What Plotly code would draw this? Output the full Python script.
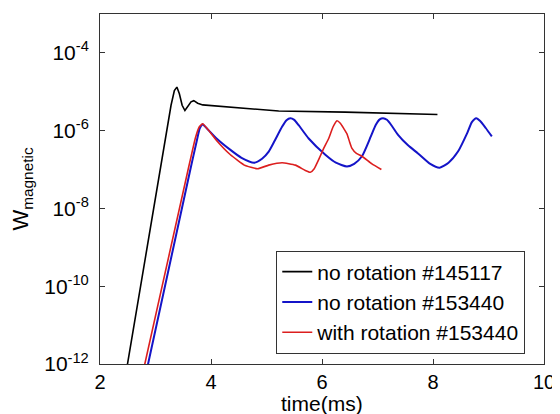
import plotly.graph_objects as go

# ---- data ----
t_black = [2.46, 3.07, 3.28, 3.34, 3.385, 3.43, 3.48, 3.53, 3.58, 3.64, 3.69, 3.76, 3.85,
           4.27, 4.75, 5.22, 6.42, 7.2, 8.08]
w_black = [5.0e-13, 8.9e-8, 4.5e-6, 1.07e-5, 1.32e-5, 8.9e-6, 4.5e-6, 3.3e-6, 4.2e-6, 5.5e-6,
           5.9e-6, 5.1e-6, 4.6e-6, 4.1e-6, 3.5e-6, 3.2e-6, 3.0e-6, 2.8e-6, 2.6e-6]

t_blue = [2.82, 3.62, 3.74, 3.80, 3.85, 3.95, 4.10, 4.35, 4.55, 4.78, 4.92, 5.04, 5.15, 5.28,
          5.36, 5.43, 5.50, 5.58, 5.76, 6.06, 6.25, 6.45, 6.58, 6.72, 6.88, 6.97, 7.04, 7.10,
          7.17, 7.26, 7.37, 7.55, 7.73, 7.95, 8.12, 8.28, 8.45, 8.62, 8.70, 8.78, 8.85, 8.95,
          9.06]
w_blue = [5.0e-13, 8.9e-8, 5.2e-7, 1.17e-6, 1.45e-6, 1.05e-6, 6.3e-7, 3.2e-7, 2.0e-7, 1.5e-7,
          1.9e-7, 2.9e-7, 5.6e-7, 1.26e-6, 1.86e-6, 2.1e-6, 1.9e-6, 1.38e-6, 6.3e-7, 2.4e-7,
          1.5e-7, 1.2e-7, 1.4e-7, 2.2e-7, 7.1e-7, 1.41e-6, 1.95e-6, 2.1e-6, 1.9e-6, 1.32e-6,
          7.8e-7, 4.2e-7, 2.6e-7, 1.4e-7, 1.12e-7, 1.5e-7, 2.9e-7, 8.9e-7, 1.66e-6, 2.1e-6,
          1.78e-6, 1.17e-6, 7.1e-7]

t_red = [2.76, 3.58, 3.72, 3.79, 3.85, 3.95, 4.10, 4.35, 4.60, 4.84, 5.04, 5.28, 5.52, 5.70,
         5.79, 5.86, 5.94, 6.03, 6.12, 6.20, 6.27, 6.33, 6.39, 6.45, 6.50, 6.54, 6.62, 6.72,
         6.90, 7.07]
w_red = [5.0e-13, 8.9e-8, 6.6e-7, 1.26e-6, 1.5e-6, 1.05e-6, 5.6e-7, 2.4e-7, 1.3e-7, 1.05e-7,
         1.3e-7, 1.5e-7, 1.3e-7, 9.5e-8, 8.5e-8, 1.05e-7, 1.8e-7, 3.5e-7, 6.3e-7, 1.26e-6,
         1.8e-6, 1.55e-6, 1.15e-6, 8.3e-7, 5.0e-7, 3.5e-7, 2.6e-7, 2.2e-7, 1.4e-7, 1.0e-7]

series_names = ["no rotation #145117", "no rotation #153440", "with rotation #153440"]

x_ticks = [2, 4, 6, 8, 10]
y_tickvals = [1e-12, 1e-10, 1e-8, 1e-6, 1e-4]
y_ticktext = ["10<sup>-12</sup>", "10<sup>-10</sup>", "10<sup>-8</sup>", "10<sup>-6</sup>", "10<sup>-4</sup>"]

FONT = "Liberation Sans, Arial, sans-serif"

fig = go.Figure()
fig.add_trace(go.Scatter(x=t_black, y=w_black, mode="lines", name=series_names[0],
                         line=dict(color="#000000", width=1.6)))
fig.add_trace(go.Scatter(x=t_blue, y=w_blue, mode="lines", name=series_names[1],
                         line=dict(color="#1414c8", width=2, shape="spline", smoothing=0.6)))
fig.add_trace(go.Scatter(x=t_red, y=w_red, mode="lines", name=series_names[2],
                         line=dict(color="#dc1e1e", width=1.6, shape="spline", smoothing=0.4)))

# the page body has an 8px default margin, so the figure is sized/offset to compensate
fig.update_layout(
    width=552, height=406,
    margin=dict(l=92, r=13, t=5, b=50),
    paper_bgcolor="white", plot_bgcolor="white",
    font=dict(family=FONT, size=19, color="#000000"),
    showlegend=True,
    legend=dict(x=0.397, xanchor="left", y=0.03, yanchor="bottom",
                bgcolor="white", bordercolor="#333333", borderwidth=1,
                font=dict(family=FONT, size=21), tracegroupgap=0),
    annotations=[dict(text="time(ms)", xref="paper", yref="paper", x=0.5, y=-0.114,
                      xanchor="center", yanchor="middle", showarrow=False,
                      font=dict(family=FONT, size=21))],
)
fig.update_xaxes(range=[2, 10], tickvals=x_ticks, ticktext=[str(v) for v in x_ticks],
                 ticks="inside", ticklen=5, tickcolor="#333333",
                 tickfont=dict(family=FONT, size=20),
                 showline=True, linecolor="#333333", linewidth=1, mirror="ticks",
                 showgrid=False, zeroline=False)
fig.update_yaxes(type="log", range=[-12, -3], tickvals=y_tickvals, ticktext=y_ticktext,
                 ticks="inside", ticklen=5, tickcolor="#333333",
                 tickfont=dict(family=FONT, size=21), ticklabelstandoff=6,
                 showline=True, linecolor="#333333", linewidth=1, mirror="ticks",
                 showgrid=False, zeroline=False,
                 title=dict(text="W<sub>magnetic</sub>", font=dict(family=FONT, size=22), standoff=10))

fig.write_html("out.html")
